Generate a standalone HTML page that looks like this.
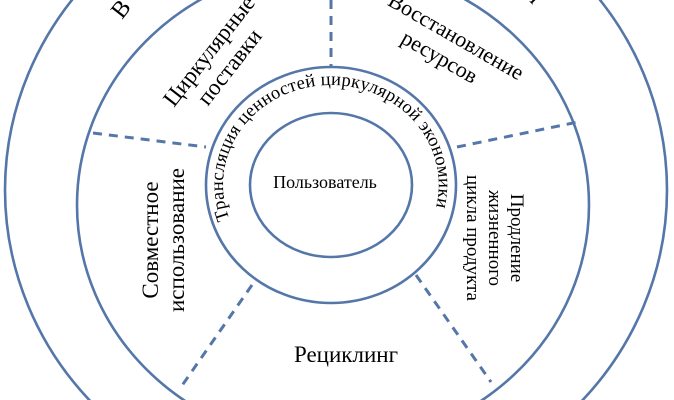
<!DOCTYPE html>
<html><head><meta charset="utf-8"><style>
html,body{margin:0;padding:0;background:#fff;overflow:hidden;width:674px;height:400px;}
svg{display:block;overflow:hidden;}
text{font-family:"Liberation Serif","DejaVu Serif",serif;fill:#000;}
</style></head><body>
<svg width="674" height="400" viewBox="0 0 674 400" xmlns="http://www.w3.org/2000/svg">
<defs>
<path id="arc" d="M 229.5 219 A 108 100 0 0 1 331 85 A 108 100 0 0 1 435 211"/>
</defs>
<g fill="none" stroke="#5476a8" stroke-width="2.6">
<ellipse cx="336" cy="190" rx="331" ry="315"/>
<ellipse cx="333" cy="205" rx="256" ry="240"/>
<ellipse cx="331" cy="185" rx="125" ry="118"/>
<ellipse cx="331" cy="185" rx="81" ry="72"/>
</g>
<g stroke="#5476a8" stroke-width="3" stroke-dasharray="9,7" fill="none">
<line x1="331" y1="0" x2="331" y2="67"/>
<line x1="93" y1="133" x2="206" y2="147"/>
<line x1="457" y1="147" x2="578" y2="122"/>
<line x1="252" y1="285" x2="181" y2="387"/>
<line x1="416" y1="275" x2="491" y2="382"/>
</g>
<text x="325" y="188" font-size="18" text-anchor="middle">Пользователь</text>
<text font-size="18.5" letter-spacing="0.2"><textPath href="#arc">Трансляция ценностей циркулярной экономики</textPath></text>
<g transform="translate(218,58) rotate(-52)" font-size="23" text-anchor="middle">
<text x="0" y="-4">Циркулярные</text>
<text x="0" y="22">поставки</text>
</g>
<g transform="translate(447,44) rotate(30)" font-size="22" text-anchor="middle">
<text x="4" y="-4">Восстановление</text>
<text x="0" y="22">ресурсов</text>
</g>
<g transform="translate(168,240) rotate(-90)" font-size="23" text-anchor="middle">
<text x="0" y="-10">Совместное</text>
<text x="0" y="16">использование</text>
</g>
<g transform="translate(490,238) rotate(90)" font-size="19" text-anchor="middle">
<text x="0" y="-21">Продление</text>
<text x="0" y="1">жизненного</text>
<text x="0" y="23">цикла продукта</text>
</g>
<text x="346" y="362" font-size="23" text-anchor="middle">Рециклинг</text>
<text transform="translate(122,20) rotate(-52)" font-size="24">В</text>
<text transform="translate(524,-4) rotate(45)" font-size="24">й</text>
</svg>
</body></html>
